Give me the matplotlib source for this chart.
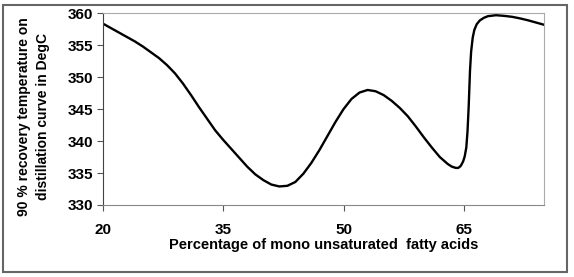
import matplotlib.pyplot as plt
from matplotlib.patches import Rectangle

# values
mufa = [20, 21, 22, 23, 24, 25, 26, 27, 28, 29, 30, 31, 32, 33, 34, 35, 36,
        37, 38, 39, 40, 41, 42, 43, 44, 45, 46, 47, 48, 49, 50, 51, 52, 53,
        54, 55, 56, 57, 58, 59, 60, 61, 62, 63, 63.5, 64, 64.3, 64.6, 64.9,
        65.1, 65.3, 65.45, 65.6, 65.76, 65.9, 66.1, 66.3, 66.6, 67, 67.5, 68,
        69, 70, 71, 72, 73, 74, 75]
t90 = [358.4, 357.7, 357.0, 356.3, 355.6, 354.8, 353.9, 353.0, 351.9, 350.6,
       349.0, 347.2, 345.3, 343.5, 341.7, 340.2, 338.8, 337.4, 336.0, 334.8,
       333.9, 333.2, 332.9, 333.0, 333.6, 334.9, 336.6, 338.6, 340.8, 343.0,
       345.0, 346.6, 347.6, 348.0, 347.8, 347.2, 346.3, 345.2, 343.9, 342.3,
       340.6, 339.0, 337.5, 336.4, 336.0, 335.8, 335.8, 336.1, 336.8, 337.6,
       339.0, 341.5, 345.5, 351.0, 354.0, 356.2, 357.4, 358.3, 358.9, 359.3,
       359.55, 359.7, 359.6, 359.45, 359.2, 358.9, 358.55, 358.2]
xticks = [20, 35, 50, 65]
yticks = [330, 335, 340, 345, 350, 355, 360]

plt.rcParams['font.family'] = ['Liberation Sans', 'DejaVu Sans']

fig = plt.figure(figsize=(5.74, 2.77), dpi=100)
ax = fig.add_axes([0.179, 0.26, 0.769, 0.692])

# outer frame
fig.patches.append(Rectangle((3 / 574, 1 - 272 / 277), 564 / 574, 267 / 277,
                             transform=fig.transFigure, fill=False,
                             edgecolor='#666666', linewidth=1.5))

ax.plot(mufa, t90, color='black', linewidth=1.7, solid_joinstyle='round')

ax.set_xlim(20, 75)
ax.set_ylim(330, 360)
ax.set_xticks(xticks)
ax.set_yticks(yticks)
ax.tick_params(axis='x', length=4, pad=9, labelsize=11, color='#555555')
ax.tick_params(axis='y', length=4, pad=3, labelsize=11, color='#555555')
for lab in ax.get_xticklabels() + ax.get_yticklabels():
    lab.set_fontweight('bold')

ax.spines['top'].set_color('#aaaaaa')
ax.spines['right'].set_color('#aaaaaa')
ax.spines['left'].set_color('#444444')
ax.spines['bottom'].set_color('#888888')

ax.set_xlabel('Percentage of mono unsaturated  fatty acids', fontsize=10.5,
              fontweight='bold', labelpad=1)
ax.set_ylabel('90 % recovery temperature on\ndistillation curve in DegC',
              fontsize=10, fontweight='bold', linespacing=1.4)
ax.yaxis.set_label_coords(-0.12, 0.46)

fig.savefig('out.png', dpi=100)
